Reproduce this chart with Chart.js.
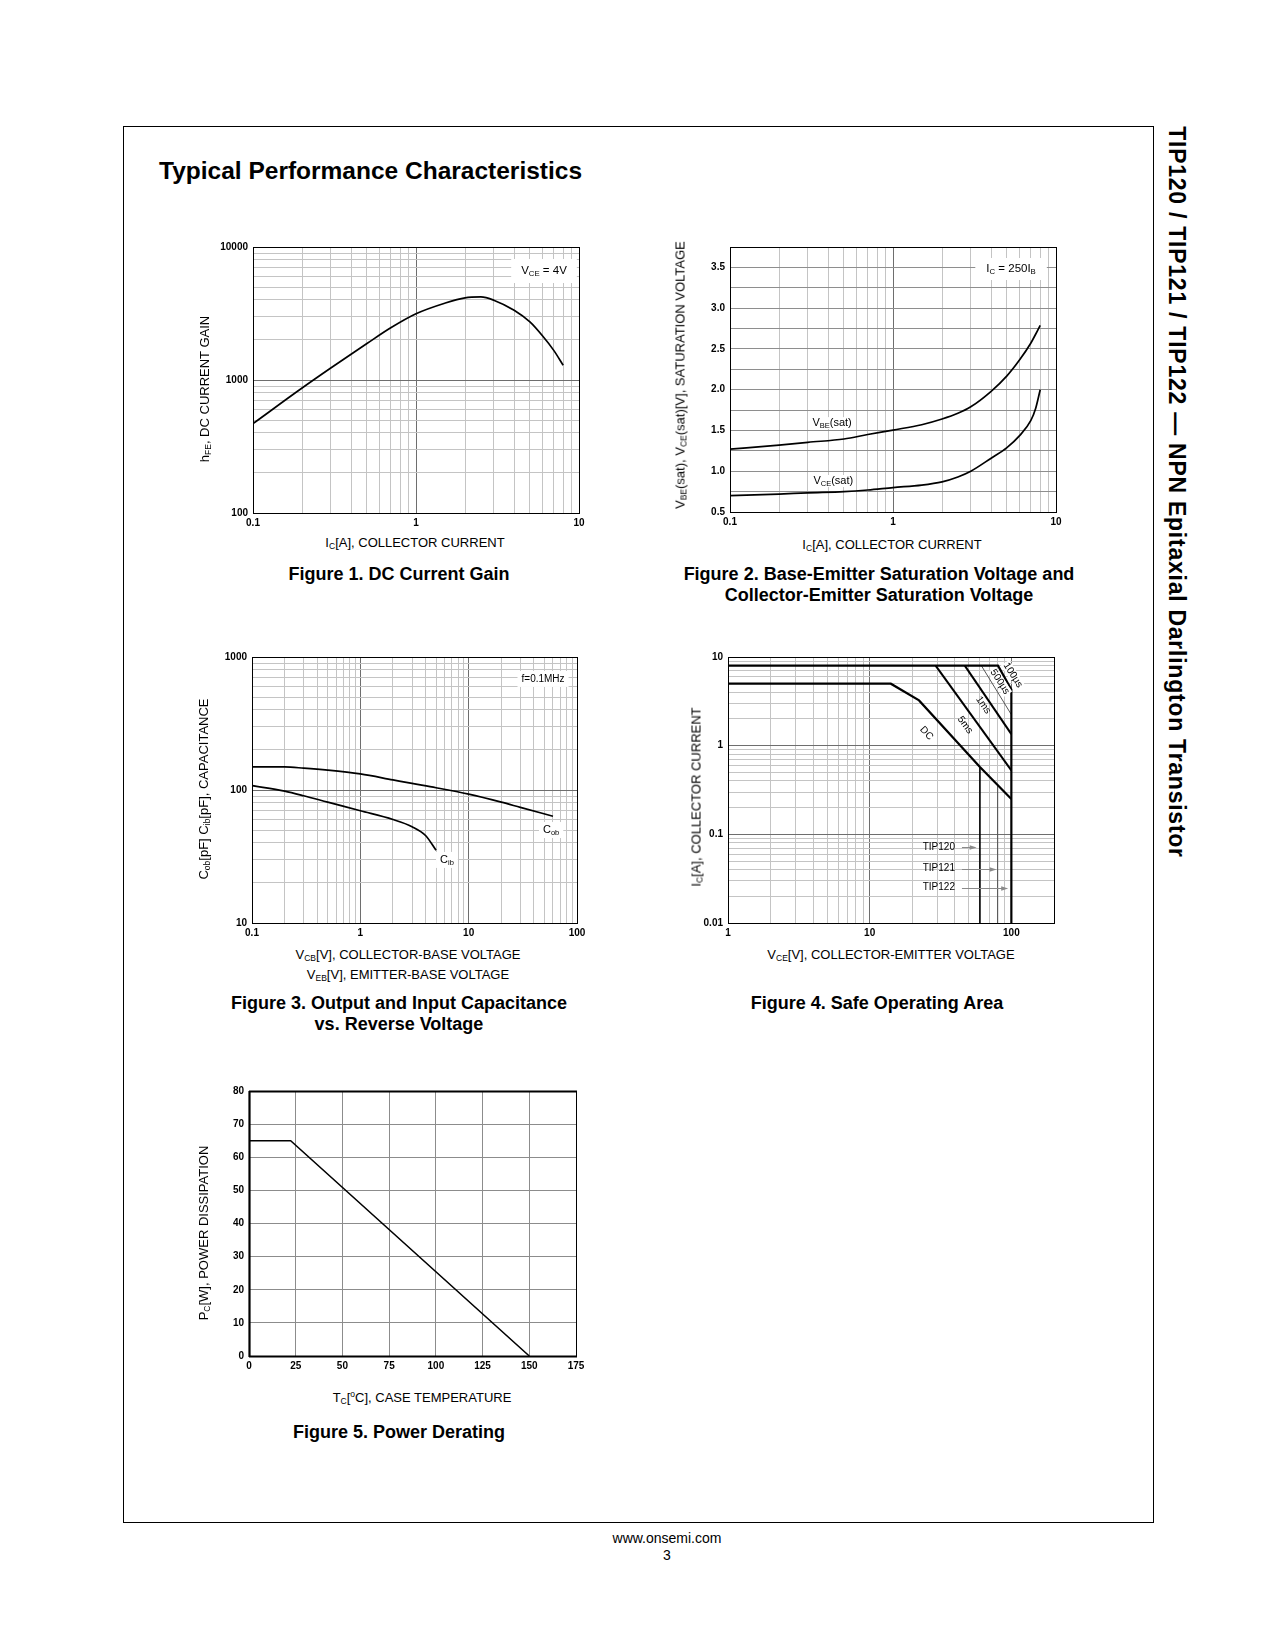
<!DOCTYPE html>
<html><head><meta charset="utf-8">
<title>TIP120 / TIP121 / TIP122 Typical Performance Characteristics</title>
<script src="https://cdn.jsdelivr.net/npm/chart.js@4.4.1/dist/chart.umd.min.js"></script>
<style>
html,body{margin:0;padding:0;background:#fff}
body{width:1275px;height:1650px;position:relative;overflow:hidden;font-family:"Liberation Sans",Arial,Helvetica,sans-serif;color:#000}
.a{position:absolute;white-space:nowrap}
.c{transform:translate(-50%,-50%);text-align:center}
.r{transform:translate(-50%,-50%) rotate(-90deg)}
.ax{font-size:13px;line-height:14px}
.cap{font-size:18px;line-height:20.5px;font-weight:bold}
.s{font-size:8.5px;position:relative;top:2px}
.sup{font-size:8.5px;position:relative;top:-5px}
canvas{display:block;position:absolute}
</style></head><body>
<div class="a" style="left:123px;top:126px;width:1031px;height:1397px;border:1px solid #000;box-sizing:border-box"></div>
<div class="a" style="left:159px;top:171px;transform:translateY(-50%);font-size:24.5px;font-weight:bold;line-height:26px">Typical Performance Characteristics</div>
<div class="a" style="left:1177px;top:492px;transform:translate(-50%,-50%) rotate(90deg);font-size:23px;font-weight:bold;letter-spacing:0.75px;line-height:24px">TIP120 / TIP121 / TIP122 — NPN Epitaxial Darlington Transistor</div>

<canvas id="c1"></canvas><canvas id="c2"></canvas><canvas id="c3"></canvas><canvas id="c4"></canvas><canvas id="c5"></canvas>

<!-- Figure 1 -->
<div class="a ax r" style="left:205px;top:389px">h<span class="s">FE</span>, DC CURRENT GAIN</div>
<div class="a ax c" style="left:415px;top:543px">I<span class="s">C</span>[A], COLLECTOR CURRENT</div>
<div class="a cap c" style="left:399px;top:574px">Figure 1. DC Current Gain</div>
<!-- Figure 2 -->
<div class="a ax r" style="left:681px;top:375px">V<span class="s">BE</span>(sat), V<span class="s">CE</span>(sat)[V], SATURATION VOLTAGE</div>
<div class="a ax c" style="left:892px;top:545px">I<span class="s">C</span>[A], COLLECTOR CURRENT</div>
<div class="a cap c" style="left:879px;top:584px">Figure 2. Base-Emitter Saturation Voltage and<br>Collector-Emitter Saturation Voltage</div>
<!-- Figure 3 -->
<div class="a ax r" style="left:204px;top:789px">C<span class="s">ob</span>[pF] C<span class="s">ib</span>[pF], CAPACITANCE</div>
<div class="a ax c" style="left:408px;top:955px">V<span class="s">CB</span>[V], COLLECTOR-BASE VOLTAGE</div>
<div class="a ax c" style="left:408px;top:975px">V<span class="s">EB</span>[V], EMITTER-BASE VOLTAGE</div>
<div class="a cap c" style="left:399px;top:1013px">Figure 3. Output and Input Capacitance<br>vs. Reverse Voltage</div>
<!-- Figure 4 -->
<div class="a ax r" style="left:697px;top:797px">I<span class="s">C</span>[A], COLLECTOR CURRENT</div>
<div class="a ax c" style="left:891px;top:955px">V<span class="s">CE</span>[V], COLLECTOR-EMITTER VOLTAGE</div>
<div class="a cap c" style="left:877px;top:1003px">Figure 4. Safe Operating Area</div>
<!-- Figure 5 -->
<div class="a ax r" style="left:204px;top:1233px">P<span class="s">C</span>[W], POWER DISSIPATION</div>
<div class="a ax c" style="left:422px;top:1398px">T<span class="s">C</span>[<span class="sup">o</span>C], CASE TEMPERATURE</div>
<div class="a cap c" style="left:399px;top:1432px">Figure 5. Power Derating</div>

<div class="a c" style="left:667px;top:1538px;font-size:14px;line-height:15px">www.onsemi.com</div>
<div class="a c" style="left:667px;top:1555px;font-size:14px;line-height:15px">3</div>

<script>
// ---------------- DATA ----------------
// Figure 1: DC current gain
const fig1Ic  = [0.1, 0.2, 0.3, 0.5, 0.7, 1, 1.5, 2, 2.5, 3, 4, 5, 6, 7, 8];
const fig1Hfe = [470, 870, 1230, 1880, 2470, 3150, 3780, 4150, 4210, 3980, 3340, 2730, 2130, 1670, 1290];
const fig1XLabels = ['0.1', '1', '10'];
const fig1YLabels = ['100', '1000', '10000'];

// Figure 2: saturation voltages
const fig2Ic  = [0.1, 0.2, 0.3, 0.5, 0.7, 1, 1.5, 2, 2.5, 3, 4, 5, 6, 7, 7.5, 8];
const fig2Vbe = [1.27, 1.32, 1.355, 1.395, 1.45, 1.505, 1.57, 1.64, 1.71, 1.79, 1.98, 2.17, 2.37, 2.57, 2.68, 2.79];
const fig2Vce = [0.70, 0.72, 0.735, 0.75, 0.77, 0.80, 0.83, 0.87, 0.93, 1.0, 1.16, 1.29, 1.44, 1.62, 1.77, 2.0];
const fig2XLabels = ['0.1', '1', '10'];
const fig2YLabels = ['0.5', '1.0', '1.5', '2.0', '2.5', '3.0', '3.5'];

// Figure 3: capacitance
const fig3Vcb = [0.1, 0.2, 0.3, 0.5, 1, 2, 3, 5, 10, 20, 30, 60];
const fig3Cob = [149, 149, 146, 141, 132, 119, 112, 104, 93, 81, 74, 63.5];
const fig3Veb = [0.1, 0.2, 0.3, 0.5, 1, 2, 3, 4, 5];
const fig3Cib = [108, 98, 90.5, 81, 69.8, 60, 53, 45.5, 35.2];
const fig3XLabels = ['0.1', '1', '10', '100'];
const fig3YLabels = ['10', '100', '1000'];

// Figure 4: safe operating area
const soa100usV = [1, 80.5, 100, 100];
const soa100usI = [8, 8, 4.3, 0.01];
const soa500usV = [61.4, 100];
const soa500usI = [8, 2.24];
const soa1msV   = [46.9, 100];
const soa1msI   = [8, 1.35];
const soa5msV   = [29.2, 100];
const soa5msI   = [8, 0.527];
const soaDcV    = [1, 14.1, 22.3, 60, 100];
const soaDcI    = [5, 5, 3.24, 0.574, 0.25];
const tip120V   = [60, 60];
const tip120I   = [0.574, 0.01];
const tip121V   = [80, 80];
const tip121I   = [0.359, 0.01];
const fig4XLabels = ['1', '10', '100'];
const fig4YLabels = ['0.01', '0.1', '1', '10'];

// Figure 5: power derating
const fig5Tc = [0, 22.3, 150];
const fig5Pc = [65, 65, 0];
const fig5XLabels = ['0', '25', '50', '75', '100', '125', '150', '175'];
const fig5YLabels = ['0', '10', '20', '30', '40', '50', '60', '70', '80'];

// ---------------- ANNOTATIONS (data coordinates) ----------------
const fig1Notes = [{x: 6.1, y: 6600, parts: [['V'], ['CE', 1], [' = 4V']], size: 11.5, bg: [10, 12]}];
const fig2Notes = [
  {x: 5.3, y: 3.48, parts: [['I'], ['C', 1], [' = 250I'], ['B', 1]], size: 11.5, bg: [11, 11]},
  {x: 0.423, y: 1.59, parts: [['V'], ['BE', 1], ['(sat)']], size: 11, bg: [2, 6]},
  {x: 0.43, y: 0.88, parts: [['V'], ['CE', 1], ['(sat)']], size: 11, bg: [2, 6]}
];
const fig3Notes = [
  {x: 48.6, y: 684, parts: [['f=0.1MHz']], size: 10, bg: [4, 8]},
  {x: 57.7, y: 50, parts: [['C'], ['ob', 1]], size: 11, bg: [4, 8]},
  {x: 6.3, y: 29.8, parts: [['C'], ['ib', 1]], size: 11, bg: [4, 8]}
];
const fig4Notes = [
  {x: 102.6, y: 6.25, parts: [['100µs']], size: 10, rot: 58, bg: [1, 5]},
  {x: 83, y: 5.25, parts: [['500µs']], size: 10, rot: 57, bg: [1, 5]},
  {x: 63.4, y: 2.87, parts: [['1ms']], size: 10, rot: 55},
  {x: 47.1, y: 1.71, parts: [['5ms']], size: 10, rot: 54},
  {x: 25.2, y: 1.38, parts: [['DC']], size: 10, rot: 47},
  {x: 40, y: 0.072, parts: [['TIP120']], size: 10, align: 'right'},
  {x: 40, y: 0.041, parts: [['TIP121']], size: 10, align: 'right'},
  {x: 40, y: 0.025, parts: [['TIP122']], size: 10, align: 'right'}
];
const fig4Arrows = [
  {x1: 44.8, x2: 56.9, y: 0.072},
  {x1: 44.8, x2: 78.7, y: 0.041},
  {x1: 44.8, x2: 95, y: 0.025}
];

// ---------------- HELPERS ----------------
Chart.defaults.font.family = '"Liberation Sans", Arial, Helvetica, sans-serif';
const FONT = '"Liberation Sans", Arial, Helvetica, sans-serif';
const TICKFONT = {size: 10, weight: 'bold'};
const MAJOR = '#6e6e6e', MINOR = '#c4c4c4';
const PAD = {l: 45, t: 12, r: 14, b: 20};

function place(id, plotL, plotT, plotW, plotH) {
  const cv = document.getElementById(id);
  const w = PAD.l + plotW + PAD.r, h = PAD.t + plotH + PAD.b;
  cv.width = w; cv.height = h;
  cv.style.width = w + 'px'; cv.style.height = h + 'px';
  cv.style.left = (plotL - PAD.l) + 'px'; cv.style.top = (plotT - PAD.t) + 'px';
  return cv;
}
function xy(xs, ys) { return xs.map((x, i) => ({x: x, y: ys[i]})); }
function isDecade(v) { const l = Math.log10(v); return Math.abs(l - Math.round(l)) < 1e-6; }
function logGrid(min, max) {
  const out = [];
  const d0 = Math.floor(Math.log10(min) + 1e-9), d1 = Math.ceil(Math.log10(max) - 1e-9);
  for (let d = d0; d <= d1; d++) for (let k = 1; k <= 9; k++) {
    const v = parseFloat((k * Math.pow(10, d)).toPrecision(6));
    if (v >= min * (1 - 1e-9) && v <= max * (1 + 1e-9)) out.push(v);
  }
  return out;
}
function labelCb(labels) {
  return v => { const l = labels.find(t => Math.abs(parseFloat(t) - v) <= 1e-9 * Math.max(1, Math.abs(v))); return l === undefined ? '' : l; };
}
function axis(kind, type, min, max, labels, opts) {
  opts = opts || {};
  const isX = kind === 'x';
  const cfg = {
    type: type, min: min, max: max, position: isX ? 'bottom' : 'left',
    afterFit: s => { if (isX) s.height = PAD.b; else s.width = PAD.l; },
    ticks: {autoSkip: false, maxRotation: 0, minRotation: 0, padding: isX ? 4 : 5, font: TICKFONT, color: '#000', callback: labelCb(labels)},
    grid: {drawTicks: false, lineWidth: 1, color: opts.grid || '#8c8c8c'},
    border: {display: false}
  };
  if (type === 'logarithmic') {
    cfg.afterBuildTicks = s => { s.ticks = logGrid(min, max).map(v => ({value: v})); };
    cfg.grid.color = c => (c.tick && isDecade(c.tick.value)) ? MAJOR : MINOR;
  } else {
    cfg.ticks.stepSize = opts.step;
  }
  return cfg;
}
function line(data, w, color, smooth) {
  return {data: data, borderColor: color || '#000', borderWidth: w, pointRadius: 0, fill: false,
          tension: 0, cubicInterpolationMode: smooth ? 'monotone' : 'default'};
}
function framePlugin(thick) {
  return {id: 'frame', beforeDatasetsDraw(chart) {
    const a = chart.chartArea, ctx = chart.ctx;
    const L = Math.round(a.left), T = Math.round(a.top), R = Math.round(a.right), B = Math.round(a.bottom);
    ctx.save();
    ctx.strokeStyle = '#000'; ctx.lineWidth = 1;
    ctx.strokeRect(L + 0.5, T + 0.5, R - L, B - T);
    if (thick) {
      ctx.lineWidth = 2.2;
      ctx.beginPath();
      ctx.moveTo(L, T + 0.5); ctx.lineTo(R + 1, T + 0.5);
      ctx.moveTo(L + 0.5, T); ctx.lineTo(L + 0.5, B + 1);
      ctx.moveTo(L, B + 0.5); ctx.lineTo(R + 1, B + 0.5);
      ctx.stroke();
    }
    ctx.restore();
  }};
}
function notesPlugin(notes, arrows) {
  return {id: 'notes', afterDatasetsDraw(chart) {
    const ctx = chart.ctx, xs = chart.scales.x, ys = chart.scales.y;
    (arrows || []).forEach(a => {
      const x1 = xs.getPixelForValue(a.x1), x2 = xs.getPixelForValue(a.x2), y = Math.round(ys.getPixelForValue(a.y)) + 0.5;
      ctx.save();
      ctx.strokeStyle = '#8a8a8a'; ctx.fillStyle = '#8a8a8a'; ctx.lineWidth = 1;
      ctx.beginPath(); ctx.moveTo(x1, y); ctx.lineTo(x2 - 5, y); ctx.stroke();
      ctx.beginPath(); ctx.moveTo(x2, y); ctx.lineTo(x2 - 7, y - 2.3); ctx.lineTo(x2 - 7, y + 2.3); ctx.closePath(); ctx.fill();
      ctx.restore();
    });
    notes.forEach(n => {
      const px = xs.getPixelForValue(n.x), py = ys.getPixelForValue(n.y);
      const fs = n.size || 11;
      ctx.save();
      ctx.translate(px, py);
      if (n.rot) ctx.rotate(n.rot * Math.PI / 180);
      let w = 0;
      const segs = n.parts.map(p => {
        const f = (p[1] ? (fs * 0.68).toFixed(1) : fs) + 'px ' + FONT;
        ctx.font = f;
        const mw = ctx.measureText(p[0]).width;
        w += mw;
        return {t: p[0], sub: !!p[1], mw: mw, f: f};
      });
      const x0 = n.align === 'right' ? -w : (n.align === 'left' ? 0 : -w / 2);
      if (n.bg) { ctx.fillStyle = '#fff'; ctx.fillRect(x0 - n.bg[0], -n.bg[1], w + 2 * n.bg[0], 2 * n.bg[1]); }
      ctx.fillStyle = '#000'; ctx.textBaseline = 'middle'; ctx.textAlign = 'left';
      let x = x0;
      segs.forEach(s => { ctx.font = s.f; ctx.fillText(s.t, x, s.sub ? fs * 0.28 : 0); x += s.mw; });
      ctx.restore();
    });
  }};
}
function make(id, box, datasets, xAxis, yAxis, plugins) {
  const cv = place(id, box[0], box[1], box[2], box[3]);
  return new Chart(cv, {
    type: 'line',
    data: {datasets: datasets},
    options: {
      responsive: false, devicePixelRatio: 1, animation: false, events: [],
      layout: {padding: {top: PAD.t, right: PAD.r, left: 0, bottom: 0}},
      plugins: {legend: {display: false}, tooltip: {enabled: false}},
      scales: {x: xAxis, y: yAxis}
    },
    plugins: plugins
  });
}

// ---------------- CHARTS ----------------
make('c1', [253, 247, 326, 266],
  [line(xy(fig1Ic, fig1Hfe), 1.7, '#000', true)],
  axis('x', 'logarithmic', 0.1, 10, fig1XLabels),
  axis('y', 'logarithmic', 100, 10000, fig1YLabels),
  [framePlugin(false), notesPlugin(fig1Notes)]);

make('c2', [730, 247, 326, 265],
  [line(xy(fig2Ic, fig2Vbe), 1.7, '#000', true), line(xy(fig2Ic, fig2Vce), 1.7, '#000', true)],
  axis('x', 'logarithmic', 0.1, 10, fig2XLabels),
  axis('y', 'linear', 0.5, 3.75, fig2YLabels, {step: 0.25, grid: '#8e8e8e'}),
  [framePlugin(false), notesPlugin(fig2Notes)]);

make('c3', [252, 657, 325, 266],
  [line(xy(fig3Vcb, fig3Cob), 1.7, '#000', true), line(xy(fig3Veb, fig3Cib), 1.7, '#000', true)],
  axis('x', 'logarithmic', 0.1, 100, fig3XLabels),
  axis('y', 'logarithmic', 10, 1000, fig3YLabels),
  [framePlugin(false), notesPlugin(fig3Notes)]);

make('c4', [728, 657, 326, 266],
  [line(xy(soa100usV, soa100usI), 2.2),
   line(xy(soa500usV, soa500usI), 1, '#555'),
   line(xy(soa1msV, soa1msI), 2),
   line(xy(soa5msV, soa5msI), 2),
   line(xy(soaDcV, soaDcI), 2.2),
   line(xy(tip120V, tip120I), 1.6),
   line(xy(tip121V, tip121I), 1.1, '#555')],
  axis('x', 'logarithmic', 1, 200, fig4XLabels),
  axis('y', 'logarithmic', 0.01, 10, fig4YLabels),
  [framePlugin(false), notesPlugin(fig4Notes, fig4Arrows)]);

make('c5', [249, 1091, 327, 265],
  [line(xy(fig5Tc, fig5Pc), 1.5)],
  axis('x', 'linear', 0, 175, fig5XLabels, {step: 25, grid: '#8c8c8c'}),
  axis('y', 'linear', 0, 80, fig5YLabels, {step: 10, grid: '#8c8c8c'}),
  [framePlugin(true)]);
</script>
</body></html>
